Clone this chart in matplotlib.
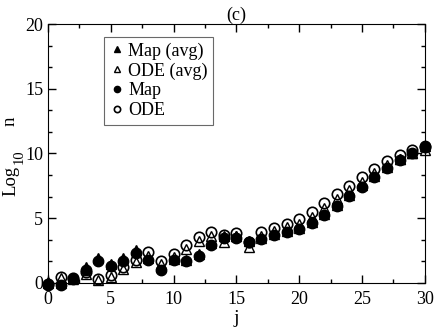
import matplotlib
matplotlib.use("Agg")
import matplotlib.pyplot as plt
from matplotlib.ticker import MultipleLocator

plt.rcParams['font.family'] = ['Liberation Serif', 'DejaVu Serif']
plt.rcParams['mathtext.fontset'] = 'stix'

# data
j = list(range(31))
map_avg = [0.05, 0.0, 0.4, 1.2, 1.9, 1.45, 1.9, 2.55, 1.95, 1.25, 1.85, 1.8, 2.2, 3.05, 3.6, 3.6,
           3.25, 3.5, 3.8, 4.0, 4.25, 4.7, 5.35, 6.05, 6.8, 7.55, 8.25, 8.95, 9.6, 10.05, 10.6]
ode_avg = [0.0, 0.35, 0.3, 0.7, 0.2, 0.45, 1.05, 1.6, 2.1, 1.45, 2.0, 2.6, 3.25, 3.6, 3.2, 3.6,
           2.8, 3.65, 4.0, 4.3, 4.55, 5.1, 5.8, 6.45, 7.15, 7.8, 8.5, 9.1, 9.6, 10.0, 10.3]
map_val = [-0.15, -0.15, 0.3, 1.0, 1.7, 1.3, 1.7, 2.35, 1.8, 1.0, 1.75, 1.7, 2.1, 2.9, 3.5, 3.5,
           3.2, 3.4, 3.7, 3.9, 4.15, 4.6, 5.25, 5.95, 6.7, 7.45, 8.15, 8.85, 9.5, 10.0, 10.6]
ode_val = [-0.1, 0.5, 0.4, 0.85, 0.3, 0.65, 1.25, 1.75, 2.4, 1.7, 2.2, 2.9, 3.55, 3.9, 3.7, 3.85,
           3.2, 3.9, 4.25, 4.55, 4.95, 5.45, 6.15, 6.85, 7.5, 8.15, 8.8, 9.4, 9.85, 10.25, 10.5]

W, H = 434, 327
fig = plt.figure(figsize=(W / 100, H / 100), dpi=100)
ax = fig.add_axes([0.1106, 0.1346, 0.868, 0.792])

ms = 7.5
ax.plot(j, map_avg, '^', color='black', ms=ms, label='Map (avg)', clip_on=False)
ax.plot(j, ode_avg, '^', mfc='white', mec='black', mew=1, ms=ms, label='ODE (avg)', clip_on=False)
ax.plot(j, map_val, 'o', color='black', ms=ms, label='Map', clip_on=False)
ax.plot(j, ode_val, 'o', mfc='none', mec='black', mew=1.2, ms=ms, label='ODE', clip_on=False)

ax.set_xlim(0, 30)
ax.set_ylim(0, 20)
ax.xaxis.set_major_locator(MultipleLocator(5))
ax.xaxis.set_minor_locator(MultipleLocator(2.5))
ax.yaxis.set_major_locator(MultipleLocator(5))
ax.yaxis.set_minor_locator(MultipleLocator(5 / 3))
ax.tick_params(which='both', direction='in', top=True, right=True, labelsize=13, width=1)
ax.tick_params(which='major', length=6)
ax.tick_params(which='minor', length=3)
ax.tick_params(axis='x', pad=6)

ax.set_xlabel('j', fontsize=14, labelpad=1)
ax.set_title('(c)', fontsize=13, pad=3)

# y label: "Log" with a big subscript "10", then "n"
kw = dict(rotation=90, rotation_mode='anchor', ha='left', va='baseline', fontsize=13.5)
fig.text(15 / W, 1 - 196 / H, 'Log', **kw)
fig.text(22.5 / W, 1 - 164 / H, '10', **dict(kw, fontsize=10.5))
fig.text(15 / W, 1 - 126 / H, 'n', **kw)

leg = ax.legend(loc='upper left', bbox_to_anchor=(0.1485, 0.95), frameon=True, fancybox=False,
                edgecolor='#444444', fontsize=13, handletextpad=0.25, borderpad=0.3,
                labelspacing=0.15, handlelength=0.8, markerscale=0.6, borderaxespad=0)
leg.get_frame().set_linewidth(0.8)

fig.savefig('out.png', dpi=100)
